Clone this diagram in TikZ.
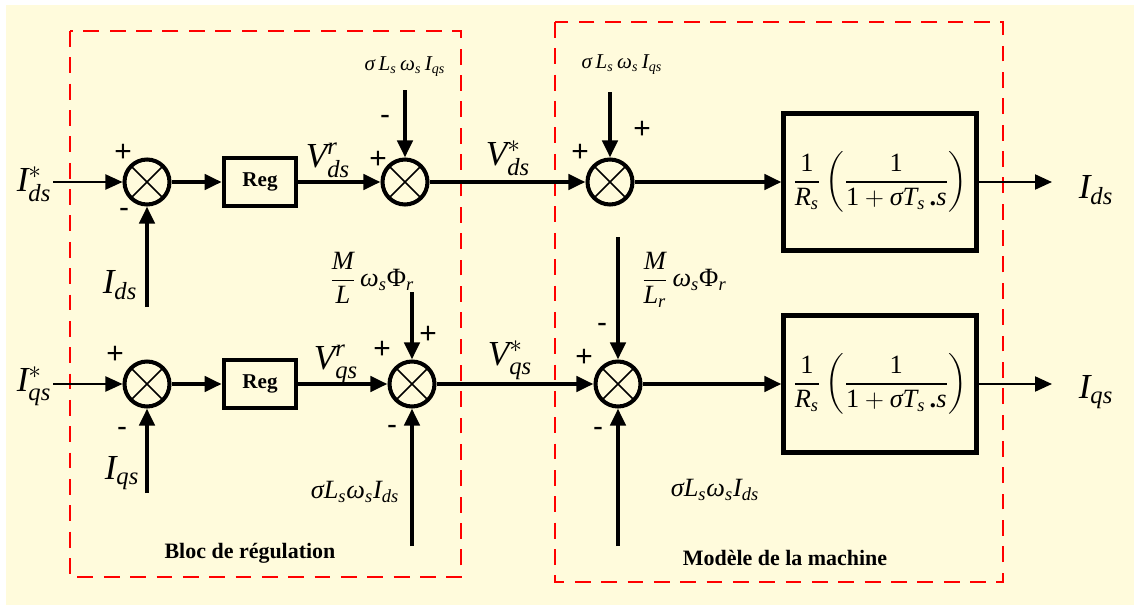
\documentclass[tikz,border=0pt]{standalone}
\usepackage{amsmath}
\usepackage{fontspec}
\setmainfont{Liberation Serif}
\setsansfont{Liberation Sans}
\usetikzlibrary{arrows.meta, positioning, calc}
\definecolor{fond}{HTML}{FFFBDC}
\newcommand{\vi}[1]{\textit{#1}}

\begin{document}
\begin{tikzpicture}[x=0.02cm, y=-0.02cm,
    fl/.style={-{Triangle[length=3.4mm, width=3mm]}, line width=2.3pt},
    fin/.style={-{Triangle[length=3.4mm, width=3mm]}, line width=1.2pt},
    sumj/.style={circle, draw, line width=2.3pt, minimum size=0.9cm, inner sep=0pt,
      path picture={\draw[line width=0.9pt]
        (path picture bounding box.north west) -- (path picture bounding box.south east)
        (path picture bounding box.north east) -- (path picture bounding box.south west);}},
    regbox/.style={draw, line width=2.3pt, minimum width=1.45cm, minimum height=0.96cm,
                   font=\fontsize{12}{14}\selectfont\bfseries},
    tfbox/.style={draw, line width=2.6pt, minimum width=3.85cm, minimum height=2.74cm,
                  font=\fontsize{15}{17}\selectfont},
    zone/.style={draw=red, line width=1.3pt, dash pattern=on 9pt off 6pt},
    sgn/.style={font=\fontsize{17}{17}\selectfont\sffamily, inner sep=0pt},
    big/.style={font=\fontsize{20}{22}\selectfont, inner sep=1pt},
    small/.style={font=\fontsize{12}{14}\selectfont},
    mid/.style={font=\fontsize{15}{17}\selectfont},
    frac/.style={font=\fontsize{15}{17}\selectfont},
    titre/.style={font=\fontsize{12.5}{14}\selectfont\bfseries}]

  \useasboundingbox (0,0) rectangle (1134,605);
  \fill[fond] (6,5) rectangle (1134,605);

  % zones
  \draw[zone] (70,31) rectangle (461,577);
  \draw[zone] (555,22) rectangle (1003,582);
  \node[titre] (tregul) at (250,553) {Bloc de régulation};
  \node[titre] (tmach) at (785,558) {Modèle de la machine};

  % axe d
  \node[sumj] (s1) at (147,182) {};
  \node[regbox] (reg1) at (260,182) {Reg};
  \node[sumj] (s2) at (405,182) {};
  \node[sumj] (s3) at (610,182) {};
  \node[tfbox] (tf1) at (880,182)
    {$\dfrac{\text{1}}{\vi{R}_{\vi{s}}}\left(\dfrac{\text{1}}{\text{1}+\vi{σT}_{\vi{s}}\,\textbf{.}\vi{s}}\right)$};

  \node[big] (lidsref) at (34,184) {$\vi{I}^{*}_{\vi{ds}}$};
  \node[big] (lids) at (120,285) {$\vi{I}_{\vi{ds}}$};
  \coordinate (fb1) at (147,307);
  \node[small] (lc1) at (405,67) {$\vi{σ}\,\vi{L}_{\vi{s}}\,\vi{ω}_{\vi{s}}\,\vi{I}_{\vi{qs}}$};
  \coordinate (c1) at (405,90);
  \node[small] (lc2) at (622,65) {$\vi{σ}\,\vi{L}_{\vi{s}}\,\vi{ω}_{\vi{s}}\,\vi{I}_{\vi{qs}}$};
  \coordinate (c2) at (610,92);
  \coordinate (o1) at (1052,182);
  \node[big] (lout1) at (1096,190) {$\vi{I}_{\vi{ds}}$};
  \node[big] (lvdr) at (328,160) {$\vi{V}^{\vi{r}}_{\vi{ds}}$};
  \node[big] (lvds) at (508,158) {$\vi{V}^{*}_{\vi{ds}}$};

  \draw[fin] (lidsref.east |- s1) -- (s1.west);
  \draw[fl] (fb1) -- (s1.south);
  \draw[fl] (s1.east) -- (reg1.west);
  \draw[fl] (reg1.east) -- (s2.west);
  \draw[fl] (c1) -- (s2.north);
  \draw[fl] (s2.east) -- (s3.west);
  \draw[fl] (c2) -- (s3.north);
  \draw[fl] (s3.east) -- (tf1.west);
  \draw[fin] (tf1.east) -- (o1);

  \node[sgn] (p1) at (123,153) {+};
  \node[sgn] (m1) at (124,213) {-};
  \node[sgn] (p2) at (378,160) {+};
  \node[sgn] (m2) at (385,120) {-};
  \node[sgn] (p3) at (580,153) {+};
  \node[sgn] (p3b) at (642,130) {+};

  % axe q
  \node[sumj] (s4) at (147,384) {};
  \node[regbox] (reg2) at (260,384) {Reg};
  \node[sumj] (s5) at (412,384) {};
  \node[sumj] (s6) at (618,384) {};
  \node[tfbox] (tf2) at (880,384)
    {$\dfrac{\text{1}}{\vi{R}_{\vi{s}}}\left(\dfrac{\text{1}}{\text{1}+\vi{σT}_{\vi{s}}\,\textbf{.}\vi{s}}\right)$};

  \node[big] (liqsref) at (34,386) {$\vi{I}^{*}_{\vi{qs}}$};
  \node[big] (liqs) at (122,473) {$\vi{I}_{\vi{qs}}$};
  \coordinate (fb2) at (147,493);
  \node[frac] (lf1) at (372,278)
    {$\dfrac{\vi{M}}{\vi{L}}\,\vi{ω}_{\vi{s}}\text{Φ}_{\vi{r}}$};
  \coordinate (f1) at (412,292);
  \node[mid] (lc3) at (355,492) {$\vi{σ}\vi{L}_{\vi{s}}\vi{ω}_{\vi{s}}\vi{I}_{\vi{ds}}$};
  \coordinate (c3) at (412,546);
  \node[frac] (lf2) at (684,280)
    {$\dfrac{\vi{M}}{\vi{L}_{\vi{r}}}\,\vi{ω}_{\vi{s}}\text{Φ}_{\vi{r}}$};
  \coordinate (f2) at (618,237);
  \node[mid] (lc4) at (715,490) {$\vi{σ}\vi{L}_{\vi{s}}\vi{ω}_{\vi{s}}\vi{I}_{\vi{ds}}$};
  \coordinate (c4) at (618,546);
  \coordinate (o2) at (1052,384);
  \node[big] (lout2) at (1096,392) {$\vi{I}_{\vi{qs}}$};
  \node[big] (lvqr) at (336,364) {$\vi{V}^{\vi{r}}_{\vi{qs}}$};
  \node[big] (lvqs) at (510,360) {$\vi{V}^{*}_{\vi{qs}}$};

  \draw[fin] (liqsref.east |- s4) -- (s4.west);
  \draw[fl] (fb2) -- (s4.south);
  \draw[fl] (s4.east) -- (reg2.west);
  \draw[fl] (reg2.east) -- (s5.west);
  \draw[fl] (f1) -- (s5.north);
  \draw[fl] (c3) -- (s5.south);
  \draw[fl] (s5.east) -- (s6.west);
  \draw[fl] (f2) -- (s6.north);
  \draw[fl] (c4) -- (s6.south);
  \draw[fl] (s6.east) -- (tf2.west);
  \draw[fin] (tf2.east) -- (o2);

  \node[sgn] (p4) at (115,355) {+};
  \node[sgn] (m4) at (122,432) {-};
  \node[sgn] (p5) at (382,350) {+};
  \node[sgn] (p5b) at (428,335) {+};
  \node[sgn] (m5) at (392,430) {-};
  \node[sgn] (p6) at (584,358) {+};
  \node[sgn] (m6) at (602,328) {-};
  \node[sgn] (m6b) at (598,432) {-};
\end{tikzpicture}
\end{document}
